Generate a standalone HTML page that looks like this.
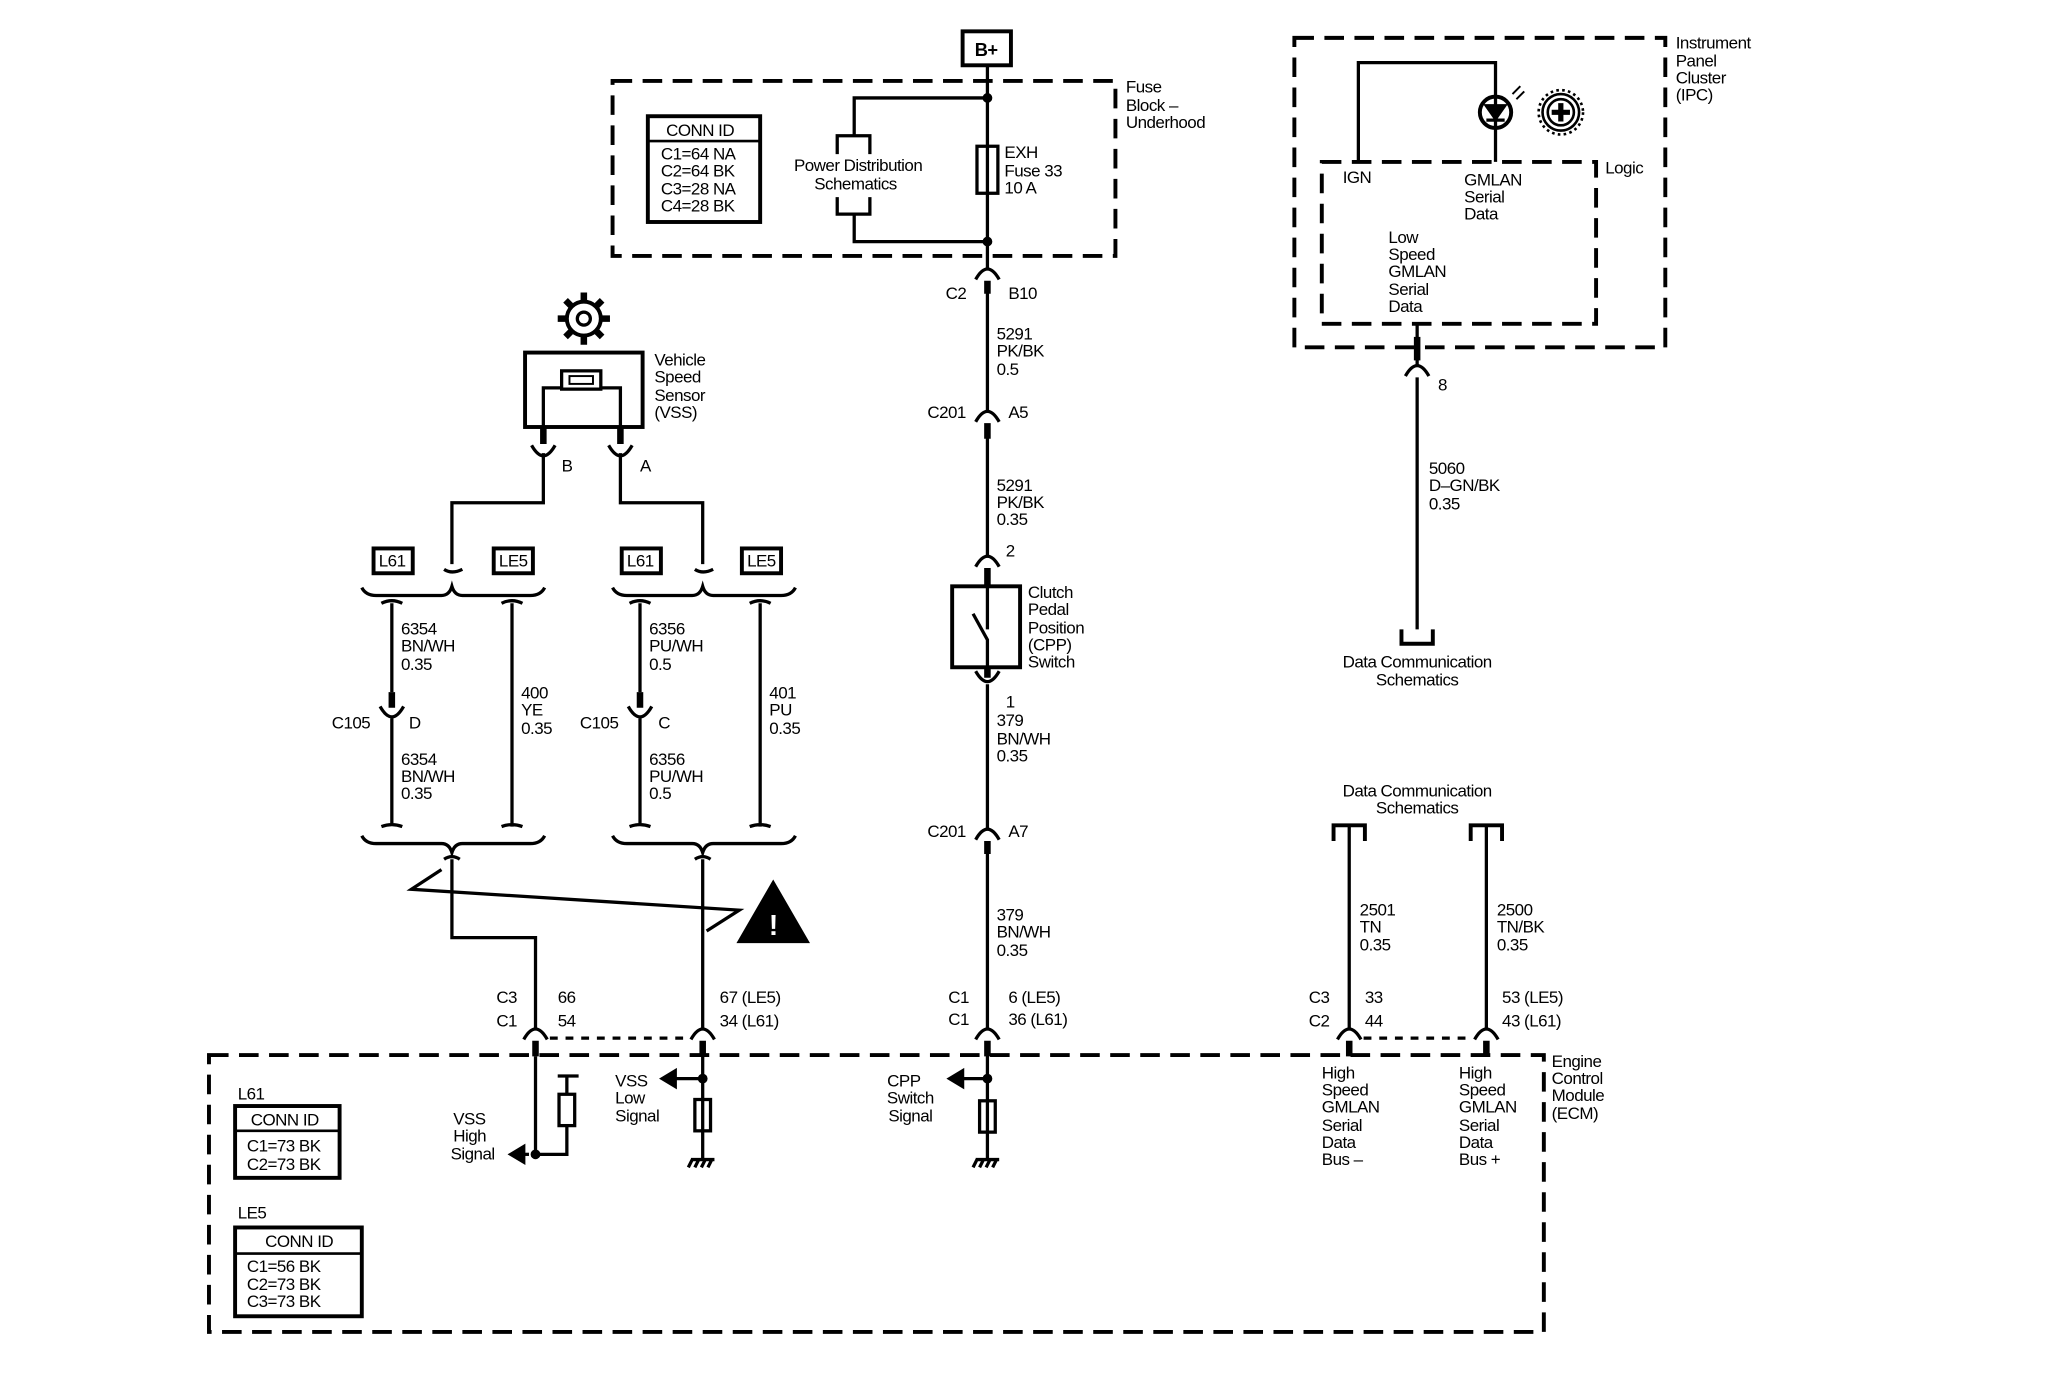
<!DOCTYPE html>
<html><head><meta charset="utf-8"><style>
html,body{margin:0;padding:0;background:#fff}
svg{display:block}
text{font-family:"Liberation Sans",sans-serif;font-size:13px;fill:#000;letter-spacing:-0.4px}
</style></head><body>
<svg width="2048" height="1392" viewBox="0 0 1568 1066" preserveAspectRatio="none" xmlns="http://www.w3.org/2000/svg">
<g fill="none" stroke="#000" stroke-width="2.5">
<rect x="469" y="62" width="385" height="134" stroke-dasharray="15 8" stroke-width="3"/>
<rect x="991" y="29" width="284" height="237" stroke-dasharray="15 8" stroke-width="3"/>
<rect x="1012" y="124" width="210" height="124" stroke-dasharray="15 8" stroke-width="3"/>
<rect x="160" y="808" width="1022" height="212" stroke-dasharray="15 8" stroke-width="3"/>
<rect x="737" y="24" width="37" height="26" stroke-width="3"/>
<path d="M756 50V207 M756 216V316 M756 325V427 M756 436V449 M756 511V515 M756 524V636 M756 645V788 M756 798V888"/>
<path d="M756 215v10 M756 324v12 M756 435v14 M756 511v8 M756 644v10 M756 797v12" stroke-width="5"/>
<path d="M747 214Q756 198 765 214 M747 323Q756 307 765 323 M747 434Q756 418 765 434 M747 514Q756 530 765 514 M747 643Q756 627 765 643 M747 796Q756 780 765 796"/>
<rect x="748" y="112" width="16" height="36"/>
<path d="M756 75H654V104 M654 164V185H756"/>
<path d="M641 118V104H666V118 M641 151V164H666V151"/>
<circle cx="756" cy="75" r="2.5" fill="#000"/><circle cx="756" cy="185" r="2.5" fill="#000"/>
<rect x="496" y="89" width="86" height="81" stroke-width="3"/><path d="M496 108H582" stroke-width="2"/>
<rect x="729" y="449" width="52" height="62" stroke-width="3"/>
<path d="M756 449V482 M745 470L756 490V511"/>
<path d="M756 826H735"/><path d="M727 826L737 820V832Z" fill="#000"/>
<circle cx="756" cy="826" r="2.5" fill="#000"/>
<rect x="750" y="843" width="12" height="24"/>
<path d="M747 888H765 M748 888l-3 6 M753 888l-3 6 M758 888l-3 6 M763 888l-3 6"/>
<rect x="402" y="270" width="90" height="57" stroke-width="3"/>
<rect x="430" y="284" width="30" height="14"/><rect x="436" y="288" width="18" height="6" stroke-width="1.5"/>
<path d="M416 327V297H430 M475 327V297H460"/>
<path d="M416 327V340 M475 327V340" stroke-width="5"/>
<path d="M407 341Q416 357 425 341 M466 341Q475 357 484 341"/>
<path d="M416 347V385H346V432 M475 347V385H538V432"/>
<g transform="translate(447,244)"><circle r="13" stroke-width="3"/><circle r="5"/>
<path d="M0-14V-20 M0 14V20 M-14 0H-20 M14 0H20 M10-10l4-4 M-10-10l-4-4 M10 10l4 4 M-10 10l-4 4" stroke-width="5"/></g>
<rect x="286" y="420" width="30" height="19" stroke-width="3"/><rect x="378" y="420" width="30" height="19" stroke-width="3"/>
<rect x="476" y="420" width="30" height="19" stroke-width="3"/><rect x="568" y="420" width="30" height="19" stroke-width="3"/>
<path d="M340 436Q346 440 354 436 M532 436Q538 440 546 436"/>
<path d="M277 450Q280 456 288 456H338Q344 456 346 449Q348 456 354 456H406Q414 456 417 450"/>
<path d="M469 450Q472 456 480 456H530Q536 456 538 449Q540 456 546 456H598Q606 456 609 450"/>
<path d="M277 640Q280 646 288 646H338Q344 646 346 653Q348 646 354 646H406Q414 646 417 640"/>
<path d="M469 640Q472 646 480 646H530Q536 646 538 653Q540 646 546 646H598Q606 646 609 640"/>
<path d="M292 462Q300 458 308 462 M300 462V530 M300 550V632 M292 633Q300 630 308 633"/>
<path d="M384 462Q392 458 400 462 M392 462V633 M384 633Q392 630 400 633"/>
<path d="M482 462Q490 458 498 462 M490 462V530 M490 550V632 M482 633Q490 630 498 633"/>
<path d="M574 462Q582 458 590 462 M582 462V633 M574 633Q582 630 590 633"/>
<path d="M300 530V542 M490 530V542" stroke-width="5"/>
<path d="M291 541Q300 557 309 541 M481 541Q490 557 499 541"/>
<path d="M340 658Q346 654 352 658 M346 658V718H410V788 M532 658Q538 654 544 658 M538 658V788"/>
<path d="M338 666L315 681L566 697L541 713"/>
<path d="M592 676L566 721H618Z" fill="#000"/>
<path d="M410 797v12 M538 797v12" stroke-width="5"/>
<path d="M401 796Q410 780 419 796 M529 796Q538 780 547 796"/>
<path d="M421 795H528" stroke-dasharray="6 6"/>
<path d="M410 809V884H434V862 M434 838V824 M427 824H443"/>
<rect x="428" y="838" width="12" height="24"/>
<path d="M405 884H398"/><path d="M391 884L401 878V890Z" fill="#000"/>
<circle cx="410" cy="884" r="2.5" fill="#000"/>
<path d="M538 809V888 M538 826H517"/><path d="M507 826L517 820V832Z" fill="#000"/>
<circle cx="538" cy="826" r="2.5" fill="#000"/>
<rect x="532" y="842" width="12" height="24"/>
<path d="M529 888H547 M530 888l-3 6 M535 888l-3 6 M540 888l-3 6 M545 888l-3 6"/>
<rect x="180" y="847" width="80" height="55" stroke-width="3"/><path d="M180 866H260" stroke-width="2"/>
<rect x="180" y="940" width="97" height="68" stroke-width="3"/><path d="M180 960H277" stroke-width="2"/>
<path d="M1040 124V48H1145V124"/>
<circle cx="1145" cy="86" r="12" stroke-width="3"/>
<path d="M1138 81H1152L1145 91Z M1138 92H1152" fill="#000"/>
<path d="M1158 72l6-6 M1161 76l6-6" stroke-width="1.5"/>
<g transform="translate(1195,86)"><circle r="17" stroke-width="2" stroke-dasharray="2 2.5"/><circle r="14" stroke-width="2"/><circle r="10" stroke-width="2"/><path d="M0-7V7 M-7 0H7" stroke-width="4"/></g>
<path d="M1085 248V280 M1085 289V482"/>
<path d="M1085 258v18" stroke-width="5"/>
<path d="M1076 288Q1085 272 1094 288"/>
<path d="M1073 482V493H1097V482" stroke-width="3"/>
<path d="M1021 644V632H1045V644 M1126 644V632H1150V644" stroke-width="3"/>
<path d="M1033 632V788 M1138 632V788"/>
<path d="M1033 797v12 M1138 797v12" stroke-width="5"/>
<path d="M1024 796Q1033 780 1042 796 M1129 796Q1138 780 1147 796"/>
<path d="M1044 795H1128" stroke-dasharray="6 6"/>
</g>
<text x="755" y="43" text-anchor="middle" font-weight="bold" style="font-size:14px">B+</text>
<text x="510" y="104">CONN ID</text>
<text x="506" y="122">C1=64 NA</text><text x="506" y="135">C2=64 BK</text><text x="506" y="149">C3=28 NA</text><text x="506" y="162">C4=28 BK</text>
<text x="657" y="131" text-anchor="middle">Power Distribution</text><text x="655" y="145" text-anchor="middle">Schematics</text>
<text x="769" y="121">EXH</text><text x="769" y="135">Fuse 33</text><text x="769" y="148">10 A</text>
<text x="862" y="71">Fuse</text><text x="862" y="85">Block –</text><text x="862" y="98">Underhood</text>
<text x="724" y="229">C2</text><text x="772" y="229">B10</text>
<text x="763" y="260">5291</text><text x="763" y="273">PK/BK</text><text x="763" y="287">0.5</text>
<text x="710" y="320">C201</text><text x="772" y="320">A5</text>
<text x="763" y="376">5291</text><text x="763" y="389">PK/BK</text><text x="763" y="402">0.35</text>
<text x="770" y="426">2</text>
<text x="787" y="458">Clutch</text><text x="787" y="471">Pedal</text><text x="787" y="485">Position</text><text x="787" y="498">(CPP)</text><text x="787" y="511">Switch</text>
<text x="770" y="542">1</text>
<text x="763" y="556">379</text><text x="763" y="570">BN/WH</text><text x="763" y="583">0.35</text>
<text x="710" y="641">C201</text><text x="772" y="641">A7</text>
<text x="763" y="705">379</text><text x="763" y="718">BN/WH</text><text x="763" y="732">0.35</text>
<text x="726" y="768">C1</text><text x="772" y="768">6 (LE5)</text>
<text x="726" y="785">C1</text><text x="772" y="785">36 (L61)</text>
<text x="692" y="832" text-anchor="middle">CPP</text><text x="697" y="845" text-anchor="middle">Switch</text><text x="697" y="859" text-anchor="middle">Signal</text>
<text x="501" y="280">Vehicle</text><text x="501" y="293">Speed</text><text x="501" y="307">Sensor</text><text x="501" y="320">(VSS)</text>
<text x="430" y="361">B</text><text x="490" y="361">A</text>
<text x="290" y="434">L61</text><text x="382" y="434">LE5</text><text x="480" y="434">L61</text><text x="572" y="434">LE5</text>
<text x="307" y="486">6354</text><text x="307" y="499">BN/WH</text><text x="307" y="513">0.35</text>
<text x="399" y="535">400</text><text x="399" y="548">YE</text><text x="399" y="562">0.35</text>
<text x="254" y="558">C105</text><text x="313" y="558">D</text>
<text x="307" y="586">6354</text><text x="307" y="599">BN/WH</text><text x="307" y="612">0.35</text>
<text x="497" y="486">6356</text><text x="497" y="499">PU/WH</text><text x="497" y="513">0.5</text>
<text x="589" y="535">401</text><text x="589" y="548">PU</text><text x="589" y="562">0.35</text>
<text x="444" y="558">C105</text><text x="504" y="558">C</text>
<text x="497" y="586">6356</text><text x="497" y="599">PU/WH</text><text x="497" y="612">0.5</text>
<text x="592" y="716" text-anchor="middle" font-weight="bold" style="font-size:22px;fill:#fff">!</text>
<text x="380" y="768">C3</text><text x="427" y="768">66</text>
<text x="380" y="786">C1</text><text x="427" y="786">54</text>
<text x="551" y="768">67 (LE5)</text><text x="551" y="786">34 (L61)</text>
<text x="347" y="861">VSS</text><text x="347" y="874">High</text><text x="345" y="888">Signal</text>
<text x="471" y="832">VSS</text><text x="471" y="845">Low</text><text x="471" y="859">Signal</text>
<text x="182" y="842">L61</text>
<text x="192" y="862">CONN ID</text><text x="189" y="882">C1=73 BK</text><text x="189" y="896">C2=73 BK</text>
<text x="182" y="933">LE5</text>
<text x="203" y="955">CONN ID</text><text x="189" y="974">C1=56 BK</text><text x="189" y="988">C2=73 BK</text><text x="189" y="1001">C3=73 BK</text>
<text x="1188" y="817">Engine</text><text x="1188" y="830">Control</text><text x="1188" y="843">Module</text><text x="1188" y="857">(ECM)</text>
<text x="1283" y="37">Instrument</text><text x="1283" y="51">Panel</text><text x="1283" y="64">Cluster</text><text x="1283" y="77">(IPC)</text>
<text x="1229" y="133">Logic</text>
<text x="1028" y="140">IGN</text>
<text x="1121" y="142">GMLAN</text><text x="1121" y="155">Serial</text><text x="1121" y="168">Data</text>
<text x="1063" y="186">Low</text><text x="1063" y="199">Speed</text><text x="1063" y="212">GMLAN</text><text x="1063" y="226">Serial</text><text x="1063" y="239">Data</text>
<text x="1101" y="299">8</text>
<text x="1094" y="363">5060</text><text x="1094" y="376">D–GN/BK</text><text x="1094" y="390">0.35</text>
<text x="1085" y="511" text-anchor="middle">Data Communication</text><text x="1085" y="525" text-anchor="middle">Schematics</text>
<text x="1085" y="610" text-anchor="middle">Data Communication</text><text x="1085" y="623" text-anchor="middle">Schematics</text>
<text x="1041" y="701">2501</text><text x="1041" y="714">TN</text><text x="1041" y="728">0.35</text>
<text x="1146" y="701">2500</text><text x="1146" y="714">TN/BK</text><text x="1146" y="728">0.35</text>
<text x="1002" y="768">C3</text><text x="1045" y="768">33</text>
<text x="1002" y="786">C2</text><text x="1045" y="786">44</text>
<text x="1150" y="768">53 (LE5)</text><text x="1150" y="786">43 (L61)</text>
<text x="1012" y="826">High</text><text x="1012" y="839">Speed</text><text x="1012" y="852">GMLAN</text><text x="1012" y="866">Serial</text><text x="1012" y="879">Data</text><text x="1012" y="892">Bus –</text>
<text x="1117" y="826">High</text><text x="1117" y="839">Speed</text><text x="1117" y="852">GMLAN</text><text x="1117" y="866">Serial</text><text x="1117" y="879">Data</text><text x="1117" y="892">Bus +</text>
</svg>
</body></html>
